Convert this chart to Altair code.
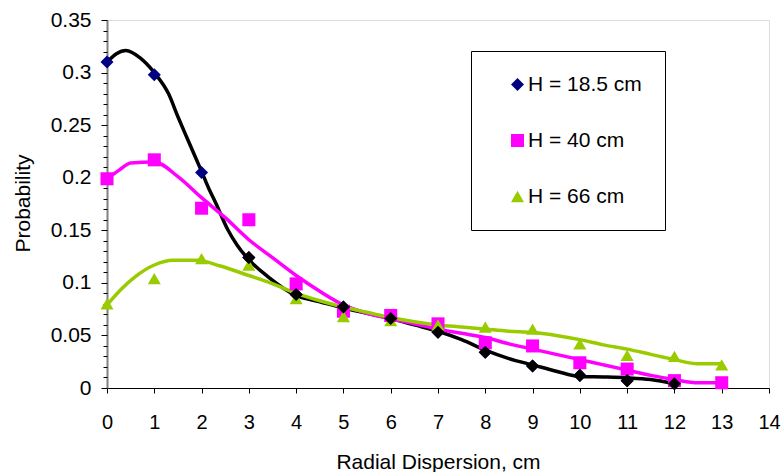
import altair as alt
import pandas as pd

# ---- data ----
SERIES = ["H = 18.5 cm", "H = 40 cm", "H = 66 cm"]

# measured points (radial dispersion, probability)
r_185 = [0, 1, 2, 3, 4, 5, 6, 7, 8, 9, 10, 11, 12]
p_185 = [0.310, 0.298, 0.205, 0.124, 0.089, 0.077, 0.066, 0.053, 0.034, 0.021, 0.012, 0.007, 0.004]

r_40 = [0, 1, 2, 3, 4, 5, 6, 7, 8, 9, 10, 11, 12, 13]
p_40 = [0.199, 0.217, 0.171, 0.160, 0.099, 0.073, 0.069, 0.061, 0.043, 0.040, 0.024, 0.018, 0.007, 0.005]

r_66 = [0, 1, 2, 3, 4, 5, 6, 7, 8, 9, 10, 11, 12, 13]
p_66 = [0.080, 0.104, 0.123, 0.117, 0.085, 0.068, 0.064, 0.060, 0.058, 0.056, 0.042, 0.031, 0.030, 0.022]

# fitted curves
cx_185 = [0, 0.2, 0.4, 0.7, 1.0, 1.3, 1.5, 1.7, 2.0, 2.15, 2.3, 2.55, 2.75, 3.0, 3.4, 4.0, 4.5, 5.0, 5.5,
          6.0, 6.5, 7.0, 7.5, 8.0, 8.5, 9.0, 9.5, 10.0, 10.5, 11.0, 11.5, 12.0]
cy_185 = [0.310, 0.318, 0.321, 0.314, 0.300, 0.280, 0.258, 0.237, 0.206, 0.190, 0.176, 0.151, 0.136, 0.122,
          0.106, 0.088, 0.082, 0.076, 0.071, 0.066, 0.060, 0.054, 0.046, 0.036, 0.028, 0.022, 0.016, 0.011,
          0.0105, 0.0097, 0.008, 0.004]

cx_40 = [0, 0.25, 0.5, 1.0, 1.5, 2.0, 2.5, 3.0, 3.5, 4.0, 4.5, 5.0, 5.5, 6.0, 6.5, 7.0, 7.5, 8.0, 8.5,
         9.0, 9.5, 10.0, 10.5, 11.0, 11.5, 12.0, 12.5, 13.0]
cy_40 = [0.199, 0.207, 0.214, 0.215, 0.201, 0.181, 0.162, 0.141, 0.124, 0.107, 0.092, 0.079, 0.071, 0.066,
         0.061, 0.056, 0.052, 0.048, 0.042, 0.037, 0.032, 0.027, 0.022, 0.017, 0.012, 0.008, 0.005, 0.005]

cx_66 = [0, 0.3, 0.6, 1.0, 1.4, 1.9, 2.4, 3.0, 3.4, 4.0, 4.5, 5.0, 5.5, 6.0, 6.5, 7.0, 7.5, 8.0, 8.5,
         9.0, 9.5, 10.0, 10.5, 11.0, 11.5, 12.0, 12.5, 13.0]
cy_66 = [0.079, 0.094, 0.106, 0.117, 0.1215, 0.1215, 0.116, 0.107, 0.101, 0.090, 0.083, 0.077, 0.072, 0.067,
         0.063, 0.060, 0.058, 0.056, 0.054, 0.053, 0.050, 0.046, 0.041, 0.037, 0.032, 0.027, 0.023, 0.023]

Y_TICKS = [0, 0.05, 0.1, 0.15, 0.2, 0.25, 0.3, 0.35]
X_TICKS = [0, 1, 2, 3, 4, 5, 6, 7, 8, 9, 10, 11, 12, 13, 14]
Y_MINOR = [i / 100 for i in range(36)]

LINE_COLORS = ["#000000", "#FF00FF", "#99CC00"]
MARKER_COLORS = ["#000080", "#FF00FF", "#99CC00"]
SHAPES = ["diamond", "square", "triangle-up"]

# ---- tables ----
pts = pd.concat([
    pd.DataFrame({"series": SERIES[0], "r": r_185, "p": p_185}),
    pd.DataFrame({"series": SERIES[1], "r": r_40, "p": p_40}),
    pd.DataFrame({"series": SERIES[2], "r": r_66, "p": p_66}),
], ignore_index=True)

curve_tables = [
    pd.DataFrame({"r": cx_185, "p": cy_185}),
    pd.DataFrame({"r": cx_40, "p": cy_40}),
    pd.DataFrame({"r": cx_66, "p": cy_66}),
]

FONT = "Liberation Sans"
W, H = 662, 368

xscale = alt.Scale(domain=[0, 14], nice=False, zero=False)
yscale = alt.Scale(domain=[0, 0.35], nice=False)

x_axis = alt.Axis(
    values=X_TICKS, format="d", title="Radial Dispersion, cm", orient="bottom",
    domainColor="black", domainWidth=1, tickColor="black", tickSize=5,
    labelFontSize=20, labelFont=FONT, labelColor="black", labelPadding=35,
    labelBaseline="alphabetic", labelFlush=False, labelOverlap=False, grid=False,
    titleFontSize=21, titleFont=FONT, titleColor="black", titleFontWeight="normal",
    titleY=80, titleBaseline="alphabetic")
y_axis = alt.Axis(
    values=Y_TICKS, format="~g", title="Probability", orient="left",
    domainColor="#808080", domainWidth=2, tickColor="black", tickSize=6,
    labelFontSize=21, labelFont=FONT, labelColor="black", labelPadding=10,
    labelFlush=False, labelOverlap=False, grid=False,
    titleFontSize=21, titleFont=FONT, titleColor="black", titleFontWeight="normal",
    titleX=-84, titleY=183, titleAngle=270, titleBaseline="middle", titleAlign="center")

legend = alt.Legend(
    title=None, orient="none", legendX=364, legendY=31,
    strokeColor="black", fillColor="white", padding=23, rowPadding=34,
    symbolSize=170, symbolOffset=13, labelOffset=0, symbolStrokeWidth=0,
    labelFontSize=21, labelFont=FONT, labelColor="black",
)

layers = []
for i, (tbl, col) in enumerate(zip(curve_tables, LINE_COLORS)):
    layers.append(
        alt.Chart(tbl).mark_line(strokeWidth=3.5, interpolate="monotone", color=col).encode(
            x=alt.X("r:Q", scale=xscale, axis=x_axis if i == 0 else None),
            y=alt.Y("p:Q", scale=yscale, axis=y_axis if i == 0 else None),
        )
    )

points = alt.Chart(pts).mark_point(filled=True, size=170, opacity=1).encode(
    x=alt.X("r:Q", scale=xscale, axis=None),
    y=alt.Y("p:Q", scale=yscale, axis=None),
    color=alt.Color("series:N", scale=alt.Scale(domain=SERIES, range=MARKER_COLORS), legend=legend),
    shape=alt.Shape("series:N", scale=alt.Scale(domain=SERIES, range=SHAPES), legend=legend),
)
layers.append(points)

# the H = 18.5 cm markers from r = 3 on are drawn black in the reference
black_marks = alt.Chart(pts).transform_filter(
    "datum.series == 'H = 18.5 cm' && datum.r >= 3"
).mark_point(filled=True, size=170, opacity=1, color="black", shape="diamond").encode(
    x=alt.X("r:Q", scale=xscale, axis=None),
    y=alt.Y("p:Q", scale=yscale, axis=None),
)
layers.append(black_marks)

minor = alt.Chart(pts).mark_point(opacity=0).encode(
    x=alt.X("r:Q", scale=xscale, axis=None),
    y=alt.Y("p:Q", scale=yscale, axis=alt.Axis(
        values=Y_MINOR, orient="left", labels=False, domain=False, grid=False,
        tickColor="black", tickSize=4, title=None)),
)
layers.append(minor)

chart = alt.layer(*layers).resolve_axis(
    x="independent", y="independent"
).properties(
    width=W, height=H,
    autosize=alt.AutoSizeParams(type="none"),
    padding={"left": 107, "top": 20, "right": 13, "bottom": 84},
).configure_view(stroke=None).configure(font=FONT, background="white")

chart.save("out.html", embed_options={"renderer": "svg", "actions": False})
